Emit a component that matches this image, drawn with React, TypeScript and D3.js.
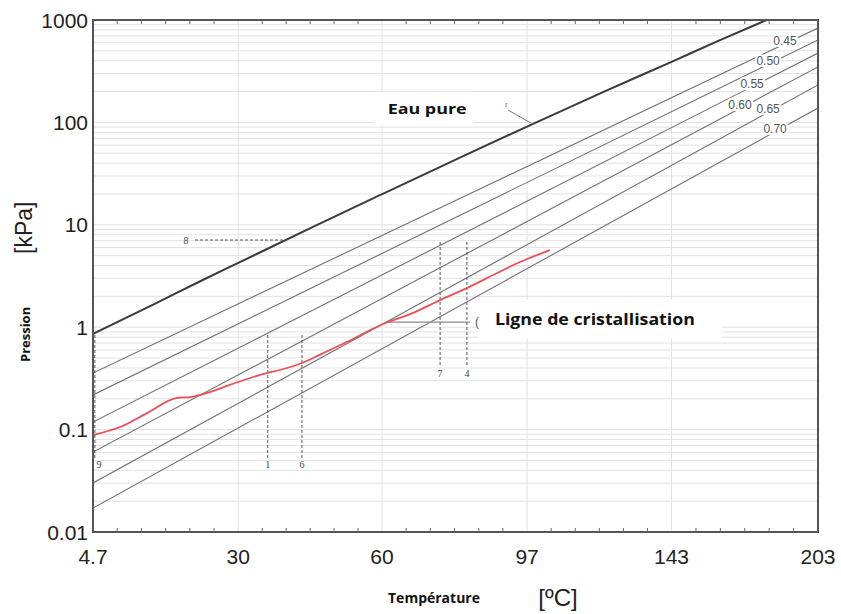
import React from "react";
import * as d3 from "d3";

// axes
const tickTemps = [4.7, 30, 60, 97, 143, 203];
const tickTempLabels = ["4.7", "30", "60", "97", "143", "203"];
const pressureTicks = [0.01, 0.1, 1, 10, 100, 1000];
const pressureTickLabels = ["0.01", "0.1", "1", "10", "100", "1000"];

// eau pure (°C, kPa)
const waterT = [4.7, 15, 23.4, 30, 45, 60, 80, 97, 120, 143, 160, 180];
const waterP = [0.86, 1.7, 2.89, 4.25, 9.6, 19.9, 47.4, 91, 199, 390, 618, 1000];

// solutions LiBr : pression à 4.7 °C et à 203 °C
const concentrations = ["0.45", "0.50", "0.55", "0.60", "0.65", "0.70"];
const concPLow = [0.357, 0.218, 0.1186, 0.0604, 0.0301, 0.0171];
const concPHigh = [835, 638, 476, 348, 232, 138];
const concLabelT = [188, 180.7, 174, 169, 180.7, 183.7];

// ligne de cristallisation
const crystT = [4.7, 9.1, 13.6, 18.8, 21.1, 24.2, 28.4, 35.5, 38.1, 42.6, 46.4, 52.2, 59.5, 67.3, 73.9, 80.7, 88.7, 95.0, 103.6];
const crystP = [0.0885, 0.106, 0.145, 0.204, 0.208, 0.228, 0.273, 0.357, 0.382, 0.447, 0.54, 0.72, 1.04, 1.38, 1.84, 2.41, 3.38, 4.33, 5.67];

// repères pointillés verticaux
const markerNames = ["9", "1", "6", "7", "4"];
const markerT = [5.0, 35.7, 42.6, 73.9, 80.7];
const markerPTop = [0.84, 0.84, 0.84, 6.8, 6.8];
const markerPBottom = [0.053, 0.053, 0.053, 0.41, 0.41];

// repère 8 (horizontal)
const mark8T = [22.0, 39.5];
const mark8P = 7.1;

const width = 841;
const height = 614;
const margin = { top: 20, right: 23, bottom: 82, left: 93 };

const toInv = (t: number) => 1 / (t + 273.15);

const x = d3
  .scaleLinear()
  .domain([toInv(tickTemps[0]), toInv(tickTemps[tickTemps.length - 1])])
  .range([margin.left, width - margin.right]);
const xT = (t: number) => x(toInv(t));

const y = d3
  .scaleLog()
  .domain([0.01, 1000])
  .range([height - margin.bottom, margin.top]);

const line = d3
  .line<[number, number]>()
  .x((d) => xT(d[0]))
  .y((d) => y(d[1]));

const App = () => {
  const left = margin.left;
  const right = width - margin.right;
  const top = margin.top;
  const bottom = height - margin.bottom;

  // grille horizontale (log)
  const hGrid: number[] = [];
  for (let d = -2; d <= 2; d++) {
    for (let k = 1; k <= 9; k++) hGrid.push(k * Math.pow(10, d));
  }

  // petites graduations en 1/T
  const minor: number[] = [];
  for (let i = 0; i < tickTemps.length - 1; i++) {
    const a = toInv(tickTemps[i]);
    const b = toInv(tickTemps[i + 1]);
    for (let j = 1; j < 6; j++) minor.push(x(a + ((b - a) * j) / 6));
  }

  const water = waterT.map((t, i) => [t, waterP[i]] as [number, number]);
  const cryst = crystT.map((t, i) => [t, crystP[i]] as [number, number]);

  // position d'une étiquette sur une droite de concentration
  const concY = (i: number, t: number) => {
    const f = (toInv(t) - toInv(4.7)) / (toInv(203) - toInv(4.7));
    const lp = Math.log10(concPLow[i]) + f * (Math.log10(concPHigh[i]) - Math.log10(concPLow[i]));
    return y(Math.pow(10, lp));
  };

  const eauX = xT(70.7);
  const eauY = y(121);
  const crX = xT(88.1);
  const crY = y(1.05);

  return (
    <svg
      width={width}
      height={height}
      style={{ position: "absolute", left: 0, top: 0, background: "#fff" }}
      fontFamily="Liberation Sans, Arial, sans-serif"
    >
      <defs>
        <clipPath id="plot">
          <rect x={left} y={top} width={right - left} height={bottom - top} />
        </clipPath>
      </defs>

      {/* grille */}
      {hGrid.map((v, i) => (
        <line key={"h" + i} x1={left} x2={right} y1={y(v)} y2={y(v)} stroke="#e2e2e2" strokeWidth={1} />
      ))}
      {tickTemps.slice(1, -1).map((t) => (
        <line key={"v" + t} x1={xT(t)} x2={xT(t)} y1={top} y2={bottom} stroke="#e2e2e2" strokeWidth={1} />
      ))}

      {/* cadres blancs des annotations */}
      <rect x={eauX - 54} y={eauY - 22} width={100} height={34} fill="#fff" />
      <rect x={crX - 17} y={crY - 26} width={244} height={39} fill="#fff" />

      <g clipPath="url(#plot)">
        {/* droites de concentration */}
        {concentrations.map((c, i) => (
          <path
            key={c}
            d={line([[4.7, concPLow[i]], [203, concPHigh[i]]]) || ""}
            fill="none"
            stroke="#707070"
            strokeWidth={1.1}
          />
        ))}

        {/* eau pure */}
        <path d={line.curve(d3.curveMonotoneX)(water) || ""} fill="none" stroke="#3a3a3a" strokeWidth={2} />
        {/* renvoi vers "Eau pure" */}
        <line x1={xT(91.7)} y1={y(132)} x2={xT(98.7)} y2={y(96)} stroke="#777" strokeWidth={1} />
        <text x={xT(91.2)} y={y(140)} fontSize={8} fill="#666" textAnchor="middle" fontFamily="Liberation Serif, serif">
          r
        </text>

        {/* repères verticaux */}
        {markerNames.map((n, i) => (
          <g key={n}>
            <line
              x1={xT(markerT[i])}
              x2={xT(markerT[i])}
              y1={y(markerPTop[i])}
              y2={y(markerPBottom[i])}
              stroke="#555"
              strokeWidth={1}
              strokeDasharray="3,2"
            />
            <text
              x={xT(markerT[i]) + (i === 0 ? 4 : 0)}
              y={y(markerPBottom[i]) + 10}
              fontSize={10}
              fill="#444"
              textAnchor="middle"
              fontFamily="Liberation Serif, serif"
            >
              {n}
            </text>
          </g>
        ))}

        {/* repère 8 */}
        <line
          x1={xT(mark8T[0])}
          x2={xT(mark8T[1])}
          y1={y(mark8P)}
          y2={y(mark8P)}
          stroke="#555"
          strokeWidth={1}
          strokeDasharray="3,2"
        />
        <text
          x={xT(mark8T[0]) - 9}
          y={y(mark8P)}
          fontSize={10}
          fill="#444"
          textAnchor="middle"
          dominantBaseline="central"
          fontFamily="Liberation Serif, serif"
        >
          8
        </text>

        {/* trait vers la ligne de cristallisation */}
        <line x1={xT(61.4)} x2={xT(81.5)} y1={y(1.12)} y2={y(1.12)} stroke="#8a8a8a" strokeWidth={1.2} />
        <text x={xT(81.5) + 5} y={y(1.12)} fontSize={12} fill="#555" dominantBaseline="central">
          (
        </text>

        {/* ligne de cristallisation */}
        <path d={line.curve(d3.curveMonotoneX)(cryst) || ""} fill="none" stroke="#e8505a" strokeWidth={1.8} />

        {/* étiquettes de concentration */}
        {concentrations.map((c, i) => (
          <text
            key={"l" + c}
            x={xT(concLabelT[i])}
            y={concY(i, concLabelT[i]) - 3}
            fontSize={12}
            fill="#555"
            textAnchor="middle"
            dominantBaseline="central"
            stroke="#fff"
            strokeWidth={4}
            paintOrder="stroke"
          >
            {c}
          </text>
        ))}
      </g>

      {/* annotations */}
      <text
        x={eauX}
        y={eauY}
        fontSize={15}
        fontWeight="bold"
        fontFamily="Open Sans, sans-serif"
        textAnchor="middle"
        fill="#111"
        textLength={79}
        lengthAdjust="spacingAndGlyphs"
      >
        Eau pure
      </text>
      <text
        x={crX}
        y={crY}
        fontSize={16}
        fontWeight="bold"
        fontFamily="Open Sans, sans-serif"
        fill="#111"
        textLength={200}
        lengthAdjust="spacingAndGlyphs"
      >
        Ligne de cristallisation
      </text>

      {/* cadre */}
      <rect x={left} y={top} width={right - left} height={bottom - top} fill="none" stroke="#555" strokeWidth={2} />
      {minor.map((mx, i) => (
        <g key={"m" + i}>
          <line x1={mx} x2={mx} y1={bottom} y2={bottom - 4} stroke="#666" strokeWidth={1} />
          <line x1={mx} x2={mx} y1={top} y2={top + 4} stroke="#666" strokeWidth={1} />
        </g>
      ))}

      {/* graduations */}
      {pressureTicks.map((p, i) => (
        <text
          key={"yt" + p}
          x={left - 5}
          y={y(p)}
          fontSize={21}
          fill="#222"
          textAnchor="end"
          dominantBaseline="central"
        >
          {pressureTickLabels[i]}
        </text>
      ))}
      {tickTemps.map((t, i) => (
        <text key={"xt" + t} x={xT(t)} y={bottom + 32} fontSize={21} fill="#222" textAnchor="middle">
          {tickTempLabels[i]}
        </text>
      ))}

      {/* titres d'axes */}
      <text
        transform={`translate(30,${y(0.85)}) rotate(-90)`}
        fontSize={13}
        fontWeight="bold"
        fontFamily="Open Sans, sans-serif"
        textAnchor="middle"
        fill="#111"
      >
        Pression
      </text>
      <text transform={`translate(32,${y(10) + 3}) rotate(-90)`} fontSize={23} textAnchor="middle" fill="#222">
        [kPa]
      </text>
      <text
        x={434}
        y={603}
        fontSize={14}
        fontWeight="bold"
        fontFamily="Open Sans, sans-serif"
        textAnchor="middle"
        fill="#111"
      >
        Température
      </text>
      <text x={558} y={606} fontSize={24} textAnchor="middle" fill="#222">
        [ºC]
      </text>
    </svg>
  );
};

export default App;
